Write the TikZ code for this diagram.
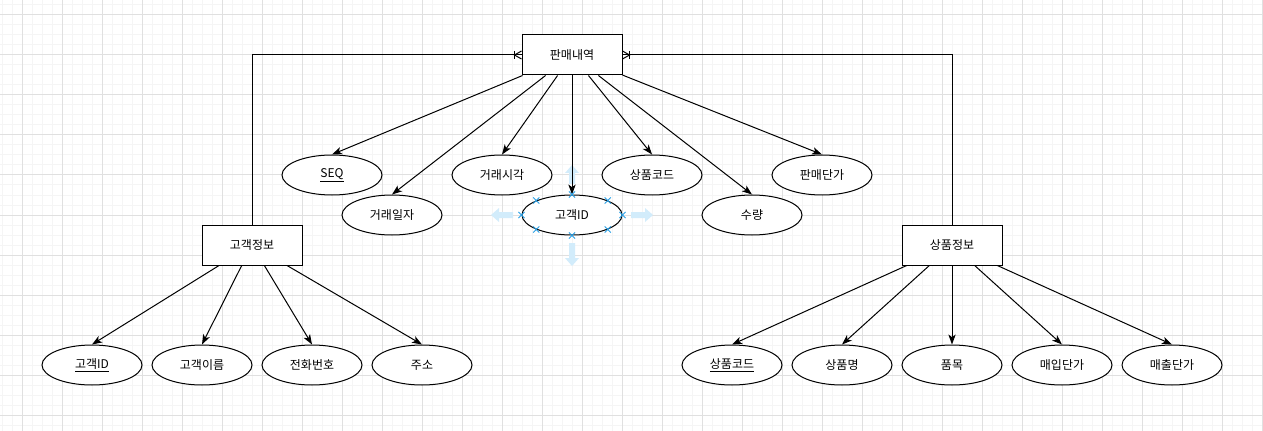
\documentclass[tikz,border=0pt]{standalone}
\usepackage{fontspec}
\setmainfont{Noto Sans CJK KR}
\usepackage{tikz}
\usetikzlibrary{shapes.geometric,shapes.misc,arrows.meta,calc}

\definecolor{gridminor}{RGB}{245,245,245}
\definecolor{gridmajor}{RGB}{224,224,224}
\definecolor{hintblue}{RGB}{210,236,251}
\definecolor{handleblue}{RGB}{41,160,230}

\begin{document}
\begin{tikzpicture}[x=0.75pt,y=-0.75pt,
  entity/.style={draw,fill=white,line width=0.75pt,minimum width=75pt,minimum height=30pt,inner sep=0pt,font=\fontsize{9}{11}\selectfont},
  attr/.style={entity,ellipse},
  link/.style={line width=0.75pt,-{Stealth[length=7.5pt,width=5.5pt,inset=2pt]}},
  rel/.style={line width=0.75pt},
  hint/.style={fill=hintblue,draw=none},
  handle/.style={cross out,draw=handleblue,line width=0.6pt,minimum size=4pt,inner sep=0pt}]
\useasboundingbox (0,0) rectangle (1263,431);
\fill[white] (0,0) rectangle (1263,431);
\foreach \gx in {2,12,...,1262} \draw[gridminor,line width=0.75pt] (\gx,0) -- (\gx,431);
\foreach \gy in {5,15,...,425} \draw[gridminor,line width=0.75pt] (0,\gy) -- (1263,\gy);
\foreach \gx in {22,62,...,1262} \draw[gridmajor,line width=0.75pt] (\gx,0) -- (\gx,431);
\foreach \gy in {15,55,...,415} \draw[gridmajor,line width=0.75pt] (0,\gy) -- (1263,\gy);

\fill[hint] (572,165) -- (579,173) -- (575,173) -- (575,184) -- (569,184) -- (569,173) -- (565,173) -- cycle;
\fill[hint] (572,266) -- (579,258) -- (575,258) -- (575,243) -- (569,243) -- (569,258) -- (565,258) -- cycle;
\fill[hint] (491,215) -- (499,208) -- (499,212) -- (513,212) -- (513,218) -- (499,218) -- (499,222) -- cycle;
\fill[hint] (653,215) -- (645,208) -- (645,212) -- (631,212) -- (631,218) -- (645,218) -- (645,222) -- cycle;

\node[entity] (sales) at (572,55) {판매내역};
\node[entity] (cust) at (252,245) {고객정보};
\node[entity] (prod) at (952,245) {상품정보};

\node[attr] (seq) at (332,175) {\underline{SEQ}};
\node[attr] (tdate) at (392,215) {거래일자};
\node[attr] (ttime) at (502,175) {거래시각};
\node[attr] (scust) at (572,215) {고객ID};
\node[attr] (sprod) at (652,175) {상품코드};
\node[attr] (qty) at (752,215) {수량};
\node[attr] (price) at (822,175) {판매단가};

\node[attr] (cid) at (92,365) {\underline{고객ID}};
\node[attr] (cname) at (202,365) {고객이름};
\node[attr] (ctel) at (312,365) {전화번호};
\node[attr] (caddr) at (422,365) {주소};

\node[attr] (pcode) at (732,365) {\underline{상품코드}};
\node[attr] (pname) at (842,365) {상품명};
\node[attr] (pitem) at (952,365) {품목};
\node[attr] (pbuy) at (1062,365) {매입단가};
\node[attr] (psell) at (1172,365) {매출단가};

\foreach \t in {seq,tdate,ttime,scust,sprod,qty,price} \draw[link] (sales) -- (\t.north);
\foreach \t in {cid,cname,ctel,caddr} \draw[link] (cust) -- (\t.north);
\foreach \t in {pcode,pname,pitem,pbuy,psell} \draw[link] (prod) -- (\t.north);

\draw[rel] (cust.north) |- (sales.west);
\draw[rel] (prod.north) |- (sales.east);
\draw[rel] ($(sales.west)+(-7,-4)$) -- ($(sales.west)+(-7,4)$);
\draw[rel] ($(sales.west)+(0,-4)$) -- ($(sales.west)+(-7,0)$) -- ($(sales.west)+(0,4)$);
\draw[rel] ($(sales.east)+(7,-4)$) -- ($(sales.east)+(7,4)$);
\draw[rel] ($(sales.east)+(0,-4)$) -- ($(sales.east)+(7,0)$) -- ($(sales.east)+(0,4)$);

\foreach \a in {north,north east,east,south east,south,south west,west,north west} \node[handle] at (scust.\a) {};
\end{tikzpicture}
\end{document}
